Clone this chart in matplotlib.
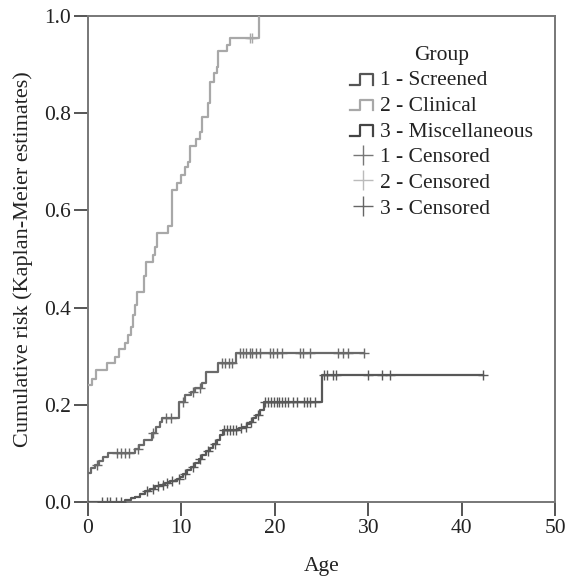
import numpy as np
import matplotlib
matplotlib.use("Agg")
import matplotlib.pyplot as plt
from matplotlib.lines import Line2D
from matplotlib.legend_handler import HandlerBase

# ---------------- data ----------------
# Group 1 - Screened
scr_t = [0, 0.3, 0.7, 1.2, 1.6, 2.1, 5.0, 5.5, 6.0, 6.9, 7.3, 7.7, 7.9, 9.7, 10.4,
         11.0, 11.5, 12.2, 12.6, 13.9, 15.8]
scr_r = [0.059, 0.070, 0.076, 0.085, 0.093, 0.101, 0.110, 0.117, 0.128, 0.142, 0.155,
         0.164, 0.173, 0.206, 0.220, 0.227, 0.234, 0.245, 0.268, 0.286, 0.307]
scr_cens = [1.0, 3.1, 3.5, 4.0, 4.4, 5.3, 7.0, 8.3, 8.9, 10.2, 11.2, 12.0, 14.3, 14.7,
            15.1, 15.4, 16.3, 16.6, 16.9, 17.3, 17.6, 18.0, 18.4, 19.5, 19.8, 20.2,
            20.8, 22.7, 23.0, 23.8, 26.8, 27.3, 27.8, 29.5]

# Group 2 - Clinical
cli_t = [0, 0.4, 0.9, 2.0, 2.9, 3.3, 4.0, 4.3, 4.6, 4.8, 5.0, 5.2, 6.0, 6.2, 7.0, 7.2,
         7.35, 8.6, 9.0, 9.5, 10.0, 10.4, 10.7, 10.9, 11.6, 12.0, 12.2, 12.9, 13.1,
         13.5, 13.8, 13.95, 14.85, 15.2, 18.3]
cli_r = [0.241, 0.254, 0.272, 0.286, 0.299, 0.315, 0.327, 0.343, 0.361, 0.385, 0.405,
         0.433, 0.464, 0.494, 0.508, 0.525, 0.553, 0.567, 0.642, 0.657, 0.673, 0.690,
         0.700, 0.732, 0.747, 0.762, 0.793, 0.820, 0.865, 0.882, 0.896, 0.927, 0.940,
         0.955, 1.0]
cli_cens = [17.3, 17.6]

# Group 3 - Miscellaneous
mis_t = [0, 4.0, 4.6, 5.0, 5.6, 6.1, 6.6, 7.2, 7.7, 8.2, 8.8, 9.5, 9.85, 10.2, 10.6,
         11.0, 11.5, 11.9, 12.2, 12.6, 13.1, 13.4, 13.8, 14.1, 14.5, 16.2, 16.6, 17.0,
         17.3, 17.7, 18.0, 18.4, 18.8, 25.0]
mis_r = [0.0, 0.004, 0.008, 0.011, 0.017, 0.022, 0.027, 0.032, 0.036, 0.040, 0.043,
         0.047, 0.052, 0.058, 0.066, 0.072, 0.080, 0.088, 0.097, 0.104, 0.111, 0.120,
         0.128, 0.138, 0.148, 0.152, 0.155, 0.160, 0.165, 0.172, 0.179, 0.190, 0.206,
         0.261]
mis_cens = [1.5, 2.0, 2.4, 3.0, 3.5, 6.3, 7.0, 7.5, 8.0, 8.5, 9.0, 9.7, 10.4, 11.2,
            12.0, 12.9, 13.6, 14.6, 14.9, 15.2, 15.5, 15.8, 16.4, 16.9, 17.5, 18.2,
            19.0, 19.3, 19.6, 19.9, 20.2, 20.5, 20.8, 21.1, 21.4, 22.0, 22.4, 23.1,
            23.5, 23.8, 24.3, 25.3, 25.6, 26.2, 26.6, 30.0, 31.5, 32.3, 42.3]

groups = ["1 - Screened", "2 - Clinical", "3 - Miscellaneous"]
cens_labels = ["1 - Censored", "2 - Censored", "3 - Censored"]
x_ticks = [0, 10, 20, 30, 40, 50]
y_ticks = [0.0, 0.2, 0.4, 0.6, 0.8, 1.0]

# ---------------- style ----------------
plt.rcParams['font.family'] = ['Liberation Serif', 'DejaVu Serif']
FS = 15.5
line_cols = ["#6a6a6a", "#a8a8a8", "#585858"]
hand_cols = ["#555555", "#a8a8a8", "#444444"]
cens_cols = ["#777777", "#bbbbbb", "#666666"]

fig = plt.figure(figsize=(5.68, 5.84), dpi=100)
ax = fig.add_axes([88/568, 1-502/584, (555-88)/568, (502-16)/584])


def km_draw(t, r, cens, col):
    t = np.asarray(t, float)
    r = np.asarray(r, float)
    cens = np.asarray(cens, float)
    end = max(t.max(), cens.max() if cens.size else t.max())
    xs = np.append(t, end)
    ys = np.append(r, r[-1])
    ax.step(xs, ys, where="post", color=col, lw=1.6, zorder=3)
    idx = np.searchsorted(t, cens, side="right") - 1
    ax.plot(cens, r[idx], ls="none", marker="+", ms=7, mew=1.0, color=col, zorder=4)


km_draw(scr_t, scr_r, scr_cens, line_cols[0])
km_draw(cli_t, cli_r, cli_cens, line_cols[1])
km_draw(mis_t, mis_r, mis_cens, line_cols[2])

ax.set_xlim(0, 50)
ax.set_ylim(0, 1.0)
ax.set_xticks(x_ticks)
ax.set_yticks(y_ticks)
ax.set_xticklabels([str(v) for v in x_ticks])
ax.set_yticklabels([f"{v:.1f}" for v in y_ticks])
ax.tick_params(direction="out", length=10, width=1.4, color="#555555",
               labelsize=FS, labelcolor="#222222", pad=2)
for s in ax.spines.values():
    s.set_color("#777777")
    s.set_linewidth(1.4)
ax.set_xlabel("Age", fontsize=FS, color="#222222", labelpad=14)
ax.set_ylabel("Cumulative risk (Kaplan-Meier estimates)", fontsize=16,
              color="#222222", labelpad=8)


class StepHandler(HandlerBase):
    def create_artists(self, legend, orig_handle, xdescent, ydescent, width,
                       height, fontsize, trans):
        x0, y0 = -xdescent, -ydescent
        lo, hi = y0 + 0.05 * height, y0 + 0.75 * height
        xs = [x0, x0 + 0.42 * width, x0 + 0.42 * width, x0 + 0.9 * width, x0 + 0.9 * width]
        ys = [lo, lo, hi, hi, lo]
        ln = Line2D(xs, ys, color=orig_handle.get_color(),
                    lw=orig_handle.get_linewidth(), transform=trans)
        return [ln]


handles = [Line2D([], [], color=c, lw=1.6) for c in hand_cols]
chandles = [Line2D([], [], ls="none", marker="+", ms=14, mew=1.0, color=c)
            for c in cens_cols]
hmap = {h: StepHandler() for h in handles}
leg = ax.legend(handles + chandles, groups + cens_labels, handler_map=hmap,
                title="Group", frameon=False, fontsize=FS, title_fontsize=FS,
                loc="upper left", bbox_to_anchor=(341/568, 1-37/584),
                bbox_transform=fig.transFigure, handlelength=1.2,
                handletextpad=0.2, labelspacing=0.26, borderpad=0.4,
                borderaxespad=0)
for txt in leg.get_texts():
    txt.set_color("#222222")
leg.get_title().set_color("#222222")

fig.savefig("out.png", dpi=100)
